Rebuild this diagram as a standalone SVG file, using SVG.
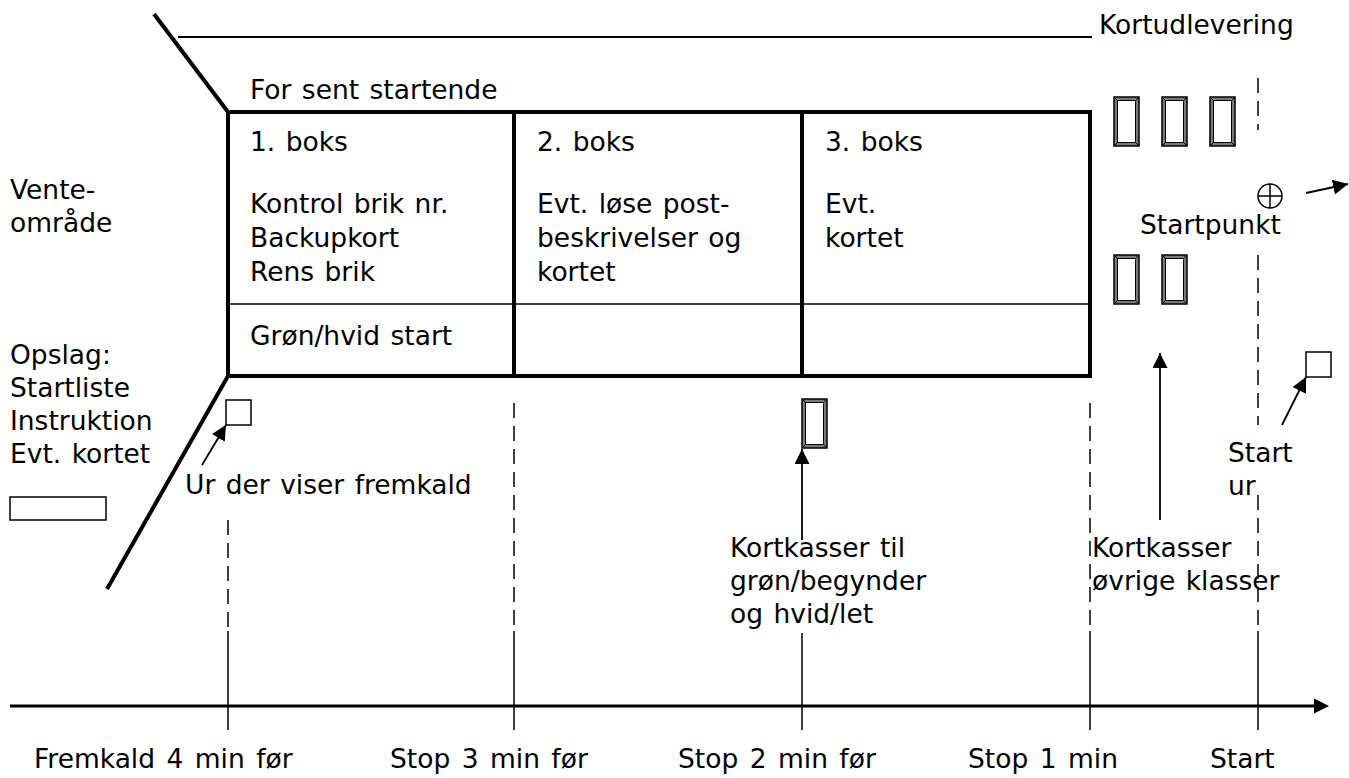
<svg xmlns="http://www.w3.org/2000/svg" width="1349" height="778" viewBox="0 0 1349 778">
  <style>
    text { font-family: "DejaVu Sans", Verdana, sans-serif; font-size: 26.5px; word-spacing: 2px; fill: #000; }
    .tid { word-spacing: 3px; }
    .thick { stroke: #000; stroke-width: 4; fill: none; }
    .thin { stroke: #000; stroke-width: 1.5; fill: none; }
    .dash { stroke: #000; stroke-width: 1.5; fill: none; stroke-dasharray: 15 8; }
    .arrow { stroke: #000; stroke-width: 1.8; fill: none; marker-end: url(#head); }
  </style>
  <defs>
    <marker id="head" markerUnits="userSpaceOnUse" markerWidth="16" markerHeight="16" refX="15" refY="7.5" orient="auto">
      <path d="M0,0 L15,7.5 L0,15 z" fill="#000"/>
    </marker>
    <!-- map box with bevelled frame -->
    <g id="kasse">
      <rect x="0" y="0" width="25" height="49" fill="#7a7a7a" stroke="#000" stroke-width="1.5"/>
      <rect x="3.5" y="3.5" width="18" height="42" fill="#fff" stroke="#000" stroke-width="1"/>
      <path d="M0,0 L3.5,3.5 M25,0 L21.5,3.5 M0,49 L3.5,45.5 M25,49 L21.5,45.5" stroke="#000" stroke-width="1"/>
    </g>
  </defs>

  <rect width="1349" height="778" fill="#fff"/>

  <!-- start area outline -->
  <g id="omraade">
    <line class="thick" x1="154" y1="14" x2="228" y2="112"/>
    <line class="thick" x1="228" y1="376" x2="107" y2="589"/>
    <line x1="178" y1="37" x2="1092" y2="37" stroke="#000" stroke-width="2"/>
    <text x="1099" y="34">Kortudlevering</text>
    <text x="250" y="99">For sent startende</text>
  </g>

  <!-- the three boxes -->
  <g id="bokse">
    <rect class="thick" x="228" y="112" width="862" height="264"/>
    <line class="thick" x1="514" y1="112" x2="514" y2="376"/>
    <line class="thick" x1="802" y1="112" x2="802" y2="376"/>
    <line class="thin" x1="228" y1="304" x2="1090" y2="304"/>
  </g>
  <g id="boks1">
    <text x="250" y="151">1. boks</text>
    <text x="250" y="213">Kontrol brik nr.</text>
    <text x="250" y="247">Backupkort</text>
    <text x="250" y="281">Rens brik</text>
    <text x="250" y="345">Grøn/hvid start</text>
  </g>
  <g id="boks2">
    <text x="537" y="151">2. boks</text>
    <text x="537" y="213">Evt. løse post-</text>
    <text x="537" y="247">beskrivelser og</text>
    <text x="537" y="281">kortet</text>
  </g>
  <g id="boks3">
    <text x="825" y="151">3. boks</text>
    <text x="825" y="213">Evt.</text>
    <text x="825" y="247">kortet</text>
  </g>

  <!-- left side -->
  <g id="venteomraade">
    <text x="10" y="199">Vente-</text>
    <text x="10" y="232">område</text>
  </g>
  <g id="opslag">
    <text x="10" y="364">Opslag:</text>
    <text x="10" y="397">Startliste</text>
    <text x="10" y="430">Instruktion</text>
    <text x="10" y="463">Evt. kortet</text>
    <rect class="thin" x="10" y="497" width="96" height="23"/>
  </g>
  <g id="fremkaldsur">
    <rect class="thin" x="226" y="400" width="25" height="25"/>
    <text x="185" y="494">Ur der viser fremkald</text>
  </g>

  <!-- map boxes -->
  <g id="kortkasser-groen">
    <use href="#kasse" x="802" y="399"/>
    <text x="730" y="557">Kortkasser til</text>
    <text x="730" y="590">grøn/begynder</text>
    <text x="730" y="623">og hvid/let</text>
  </g>
  <g id="kortkasser-oevrige">
    <use href="#kasse" x="1114" y="97"/>
    <use href="#kasse" x="1162" y="97"/>
    <use href="#kasse" x="1210" y="97"/>
    <use href="#kasse" x="1114" y="255"/>
    <use href="#kasse" x="1162" y="255"/>
    <text x="1092" y="557">Kortkasser</text>
    <text x="1092" y="590">øvrige klasser</text>
  </g>

  <!-- start point and start clock -->
  <g id="startpunkt">
    <circle cx="1270" cy="196" r="12" fill="none" stroke="#000" stroke-width="1.5"/>
    <path d="M1258,196 H1282 M1270,184 V208" stroke="#000" stroke-width="1.5"/>
    <text x="1140" y="234">Startpunkt</text>
  </g>
  <g id="startur">
    <rect class="thin" x="1306" y="352" width="25" height="25"/>
    <text x="1228" y="462">Start</text>
    <text x="1228" y="495">ur</text>
  </g>

  <!-- connectors and time axis -->
  <g id="forbindelser">
    <line class="arrow" x1="202" y1="465" x2="226" y2="425"/>
    <line class="arrow" x1="802" y1="540" x2="802" y2="449"/>
    <line class="arrow" x1="1160" y1="520" x2="1160" y2="353"/>
    <line class="arrow" x1="1282" y1="425" x2="1306" y2="377"/>
    <line class="arrow" x1="1306" y1="193" x2="1348" y2="184"/>

    <line class="dash" x1="228" y1="520" x2="228" y2="631"/>
    <line class="dash" x1="514" y1="403" x2="514" y2="631"/>
    <line class="dash" x1="1090" y1="403" x2="1090" y2="631"/>
    <line class="dash" x1="1258" y1="78" x2="1258" y2="130"/>
    <line class="dash" x1="1258" y1="255" x2="1258" y2="425"/>
    <line class="dash" x1="1258" y1="495" x2="1258" y2="631"/>

    <line x1="10" y1="706" x2="1316" y2="706" stroke="#000" stroke-width="3"/>
    <path d="M1314,698.5 L1329,706 L1314,713.5 z" fill="#000"/>
    <path class="thin" d="M228,631 V730 M514,631 V730 M802,633 V730 M1090,631 V730 M1258,631 V730"/>
  </g>

  <g id="tidspunkter">
    <text class="tid" x="34" y="768">Fremkald 4 min før</text>
    <text class="tid" x="390" y="768">Stop 3 min før</text>
    <text class="tid" x="678" y="768">Stop 2 min før</text>
    <text class="tid" x="968" y="768">Stop 1 min</text>
    <text class="tid" x="1210" y="768">Start</text>
  </g>
</svg>
